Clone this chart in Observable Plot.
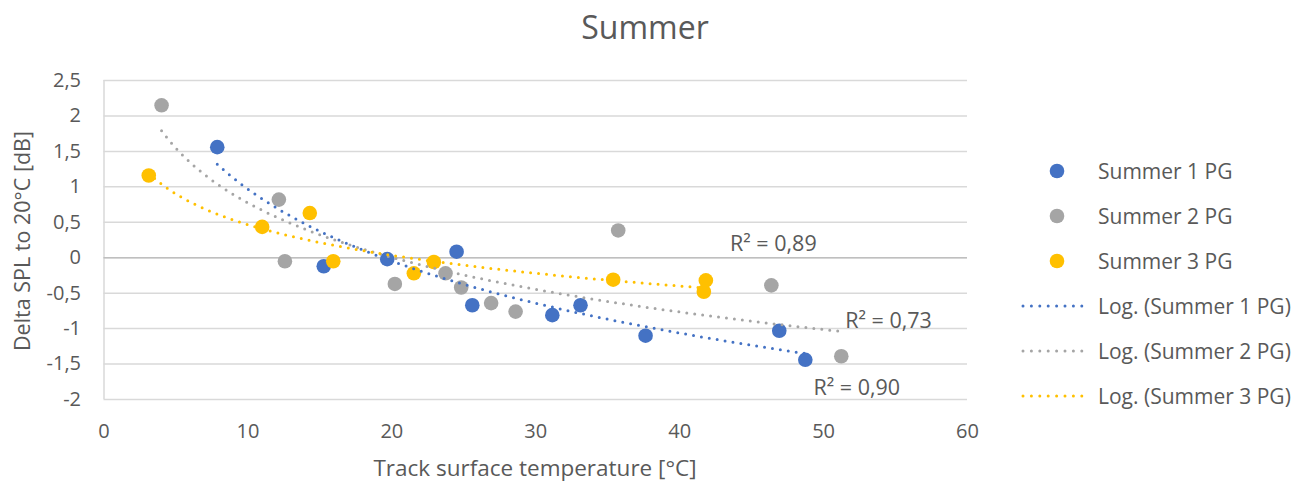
<!DOCTYPE html>
<html><head><meta charset="utf-8">
<script src="https://cdn.jsdelivr.net/npm/d3@7"></script>
<script src="https://cdn.jsdelivr.net/npm/@observablehq/plot@0.6"></script>
<style>
body{margin:0;background:#fff;font-family:"Open Sans",sans-serif;color:#595959;}
#wrap{position:relative;width:1308px;height:492px;overflow:hidden;}
#chart{position:absolute;left:0;top:0;}
.abs{position:absolute;white-space:nowrap;}
#title{left:0;width:1290px;top:5px;text-align:center;font-size:32px;line-height:44px;}
#xlab{left:103px;width:864px;top:453px;text-align:center;font-size:22.5px;line-height:30px;}
#ylab{left:21px;top:241px;font-size:21.5px;transform:translate(-50%,-50%) rotate(-90deg);}
.leg{position:absolute;left:1020px;height:30px;display:flex;align-items:center;font-size:21px;}
.leg svg{margin-right:6px;}
</style></head><body>
<div id="wrap">
  <div id="chart"></div>
  <div id="title" class="abs">Summer</div>
  <div id="xlab" class="abs">Track surface temperature [°C]</div>
  <div id="ylab" class="abs">Delta SPL to 20°C [dB]</div>
  <div id="legend"></div>
</div>
<script>
// ---- data ----
const seriesNames = ["Summer 1 PG", "Summer 2 PG", "Summer 3 PG"];
const seriesColors = ["#4472C4", "#A5A5A5", "#FFC000"];
const s1x = [7.87, 15.27, 19.68, 24.5, 25.59, 31.15, 33.11, 37.63, 46.92, 48.73];
const s1y = [1.56, -0.12, -0.02, 0.085, -0.67, -0.81, -0.67, -1.10, -1.03, -1.44];
const s2x = [4.0, 12.15, 12.57, 20.21, 23.73, 24.82, 26.9, 28.6, 35.73, 46.37, 51.23];
const s2y = [2.15, 0.82, -0.05, -0.37, -0.22, -0.42, -0.64, -0.76, 0.385, -0.39, -1.39];
const s3x = [3.11, 10.99, 14.3, 15.93, 21.53, 22.92, 35.38, 41.82, 41.68];
const s3y = [1.16, 0.435, 0.63, -0.05, -0.22, -0.06, -0.31, -0.32, -0.48];
const r2Labels = ["R² = 0,90", "R² = 0,73", "R² = 0,89"];
const r2LabelX = [49.3, 51.5, 43.5];
const r2LabelY = [-1.84, -0.89, 0.19];
const xTicks = [0, 10, 20, 30, 40, 50, 60];
const yTicks = [-2, -1.5, -1, -0.5, 0, 0.5, 1, 1.5, 2, 2.5];

const xs = [s1x, s2x, s3x], ys = [s1y, s2y, s3y];
const points = [];
xs.forEach((arr, i) => arr.forEach((x, j) => points.push({series: seriesNames[i], x, y: ys[i][j]})));

// logarithmic least-squares trendline (Excel "Log." trendline) fitted to each series
const trend = [];
xs.forEach((arr, i) => {
  const lx = arr.map(Math.log), yy = ys[i];
  const n = lx.length, mx = d3.mean(lx), my = d3.mean(yy);
  let sxy = 0, sxx = 0;
  for (let k = 0; k < n; k++) { sxy += (lx[k]-mx)*(yy[k]-my); sxx += (lx[k]-mx)**2; }
  const a = sxy / sxx, b = my - a * mx;
  const [x0, x1] = d3.extent(arr);
  const N = 120;
  for (let k = 0; k <= N; k++) {
    const x = x0 + (x1 - x0) * k / N;
    trend.push({series: seriesNames[i], x, y: a * Math.log(x) + b});
  }
});
const labels = r2Labels.map((t, i) => ({t, x: r2LabelX[i], y: r2LabelY[i]}));
const fmt = v => String(v).replace(".", ",");

const chart = Plot.plot({
  width: 1308, height: 492,
  marginLeft: 103.5, marginRight: 341, marginTop: 80, marginBottom: 93,
  style: {fontFamily: "'Open Sans', sans-serif", fontSize: "20px", color: "#595959", background: "transparent"},
  x: {domain: [0, 60]},
  y: {domain: [-2, 2.5]},
  color: {domain: seriesNames, range: seriesColors},
  marks: [
    Plot.gridY(yTicks, {stroke: "#d9d9d9", strokeOpacity: 1, strokeWidth: 1.5}),
    Plot.ruleX([0], {stroke: "#d9d9d9", strokeWidth: 1.5}),
    Plot.ruleY([0], {stroke: "#bfbfbf", strokeWidth: 1.5}),
    Plot.axisX(xTicks, {tickSize: 0, tickPadding: 24, label: null, tickFormat: d => d}),
    Plot.axisY(yTicks, {tickSize: 0, tickPadding: 23, label: null, tickFormat: fmt}),
    Plot.dot(points, {x: "x", y: "y", fill: "series", r: 7.3}),
    Plot.line(trend, {x: "x", y: "y", z: "series", stroke: "series", strokeWidth: 3, strokeDasharray: "0,8", strokeLinecap: "round", curve: "linear"}),
    Plot.text(labels, {x: "x", y: "y", text: "t", textAnchor: "start", fontSize: 21.5, fill: "#595959"})
  ]
});
document.getElementById("chart").appendChild(chart);

// legend
const legend = document.getElementById("legend");
const rowsY = [171, 216, 261, 306, 351, 396];
const items = [
  ...seriesNames.map((n, i) => ({kind: "dot", name: n, color: seriesColors[i]})),
  ...seriesNames.map((n, i) => ({kind: "line", name: "Log. (" + n + ")", color: seriesColors[i]}))
];
items.forEach((it, i) => {
  const div = document.createElement("div");
  div.className = "leg";
  div.style.top = (rowsY[i] - 15) + "px";
  const sym = it.kind === "dot"
    ? `<svg width="72" height="30"><circle cx="37" cy="15" r="7.3" fill="${it.color}"/></svg>`
    : `<svg width="72" height="30"><line x1="3" y1="15" x2="70" y2="15" stroke="${it.color}" stroke-width="3" stroke-dasharray="0,8.4" stroke-linecap="round"/></svg>`;
  div.innerHTML = sym + `<span>${it.name}</span>`;
  legend.appendChild(div);
});
</script>
</body></html>
